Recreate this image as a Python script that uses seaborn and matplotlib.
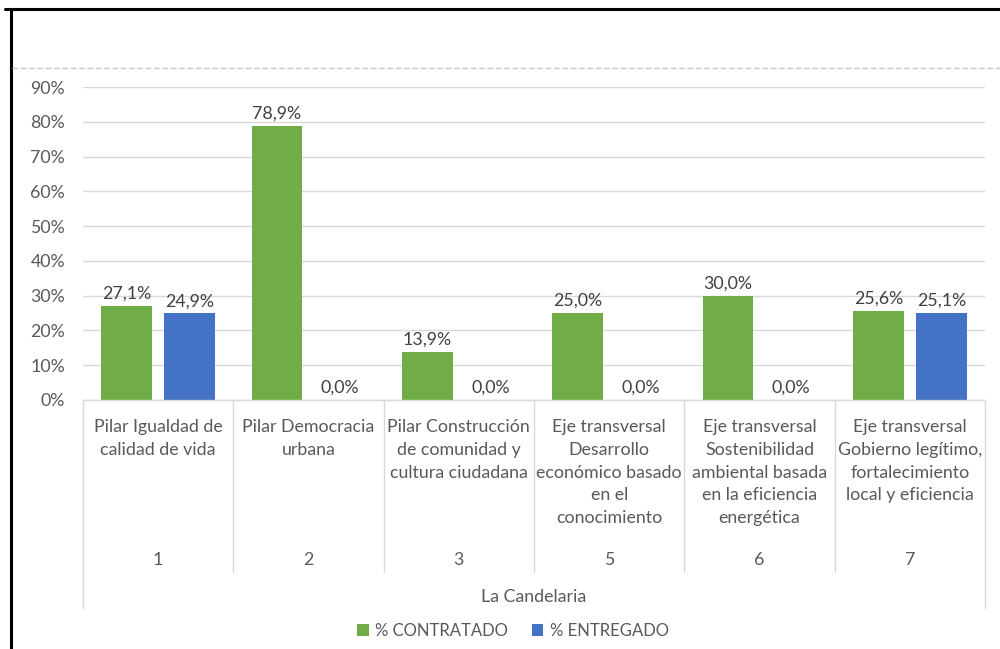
import matplotlib
matplotlib.use("Agg")
import matplotlib.pyplot as plt
import matplotlib.transforms as mtransforms
from matplotlib.lines import Line2D
from matplotlib.patches import Patch
import seaborn as sns
import pandas as pd

codes = ["1", "2", "3", "5", "6", "7"]
labels = [
    "Pilar Igualdad de\ncalidad de vida",
    "Pilar Democracia\nurbana",
    "Pilar Construcción\nde comunidad y\ncultura ciudadana",
    "Eje transversal\nDesarrollo\neconómico basado\nen el\nconocimiento",
    "Eje transversal\nSostenibilidad\nambiental basada\nen la eficiencia\nenergética",
    "Eje transversal\nGobierno legítimo,\nfortalecimiento\nlocal y eficiencia",
]
group_label = "La Candelaria"
contratado = [27.1, 78.9, 13.9, 25.0, 30.0, 25.6]
entregado = [24.9, 0.0, 0.0, 0.0, 0.0, 25.1]
series = ["% CONTRATADO", "% ENTREGADO"]
colors = ["#70AD47", "#4472C4"]
yticks = [0, 10, 20, 30, 40, 50, 60, 70, 80, 90]

df = pd.DataFrame({
    "code": codes * 2,
    "value": contratado + entregado,
    "serie": [series[0]] * len(codes) + [series[1]] * len(codes),
})

sns.set_theme(style="white")
plt.rcParams["font.family"] = ["Lato", "DejaVu Sans"]
TXT = "#595959"
GRID = "#D9D9D9"
FS = 12.8

fig = plt.figure(figsize=(10, 6.49), dpi=100)
ax = fig.add_axes([0.083, 1 - 400 / 649, 0.902, (400 - 87) / 649])

sns.barplot(data=df, x="code", y="value", hue="serie", order=codes,
            hue_order=series, palette=colors, width=0.84, gap=0.2,
            saturation=1, ax=ax, legend=False, edgecolor="none")

ax.set_ylim(0, 90)
ax.set_xlim(-0.5, len(codes) - 0.5)
ax.set_yticks(yticks)
ax.set_yticklabels([f"{t}%" for t in yticks], color=TXT, fontsize=FS)
ax.tick_params(axis="y", length=0, pad=13)
ax.yaxis.grid(True, color=GRID, linewidth=1)
ax.set_axisbelow(True)
ax.set_xticks([])
ax.set_xlabel("")
ax.set_ylabel("")
for s in ["top", "right", "left"]:
    ax.spines[s].set_visible(False)
ax.spines["bottom"].set_color(GRID)
ax.spines["bottom"].set_linewidth(1)

# data labels
for cont in ax.containers:
    ax.bar_label(cont, labels=[f"{v:.1f}%".replace(".", ",") for v in cont.datavalues],
                 padding=3, color="#404040", fontsize=FS)

# category axis (hierarchical)
trans = mtransforms.blended_transform_factory(ax.transData, fig.transFigure)
def fy(py):
    return 1 - py / 649

n = len(codes)
for i in range(n + 1):
    x = i - 0.5
    bottom = 608 if i in (0, n) else 572
    ax.add_line(Line2D([x, x], [fy(400), fy(bottom)], transform=trans,
                       color=GRID, linewidth=1, clip_on=False))
for i, (c, lab) in enumerate(zip(codes, labels)):
    ax.text(i, fy(419), lab, transform=trans, ha="center", va="top",
            color=TXT, fontsize=FS, linespacing=1.52)
    ax.text(i, fy(560), c, transform=trans, ha="center", va="center",
            color=TXT, fontsize=FS)
ax.text((n - 1) / 2, fy(597), group_label, transform=trans, ha="center",
        va="center", color=TXT, fontsize=FS)

# legend
handles = [Patch(facecolor=col, edgecolor="none") for col in colors]
fig.legend(handles, series, loc="center", bbox_to_anchor=(0.513, fy(631)),
           ncol=2, frameon=False, fontsize=12, labelcolor=TXT,
           handlelength=0.7, handleheight=0.7, handletextpad=0.4,
           columnspacing=1.4)

# frame and dashed line
fig.add_artist(Line2D([0.011, 0.011], [0, fy(9)], color="black", linewidth=2.2,
                      transform=fig.transFigure))
fig.add_artist(Line2D([0.005, 1.0], [fy(9), fy(9)], color="black", linewidth=2.2,
                      transform=fig.transFigure))
fig.add_artist(Line2D([0.012, 1.0], [fy(67.5), fy(67.5)], color="#C8C8C8",
                      linewidth=1, linestyle=(0, (4, 2)), transform=fig.transFigure))

fig.savefig("out.png", dpi=100, facecolor="white")
